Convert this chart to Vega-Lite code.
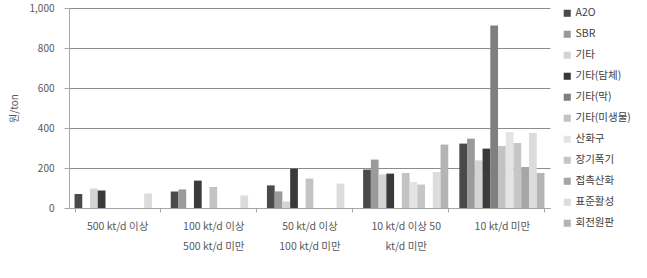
{
  "$schema": "https://vega.github.io/schema/vega-lite/v6.json",
  "width": 481,
  "height": 200,
  "autosize": {"type": "none"},
  "padding": {"left": 69, "top": 8, "right": 97, "bottom": 70},
  "config": {
    "font": "Noto Sans CJK KR",
    "view": {"stroke": null},
    "axis": {"labelColor": "#595959", "titleColor": "#595959", "labelFontSize": 10, "domainColor": "#a6a6a6", "tickColor": "#a6a6a6"},
    "axisY": {"grid": true, "gridColor": "#8c8c8c", "gridWidth": 1},
    "legend": {"labelColor": "#404040", "labelFontSize": 10.5}
  },
  "data": {
    "values": [
      {"cat": "500 kt/d 이상", "s": "A2O", "v": 70},
      {"cat": "500 kt/d 이상", "s": "기타", "v": 97},
      {"cat": "500 kt/d 이상", "s": "기타(담체)", "v": 88},
      {"cat": "500 kt/d 이상", "s": "표준활성", "v": 73},
      {"cat": "100 kt/d 이상 500 kt/d 미만", "s": "A2O", "v": 83},
      {"cat": "100 kt/d 이상 500 kt/d 미만", "s": "SBR", "v": 93},
      {"cat": "100 kt/d 이상 500 kt/d 미만", "s": "기타(담체)", "v": 137},
      {"cat": "100 kt/d 이상 500 kt/d 미만", "s": "기타(미생물)", "v": 105},
      {"cat": "100 kt/d 이상 500 kt/d 미만", "s": "표준활성", "v": 63},
      {"cat": "50 kt/d 이상 100 kt/d 미만", "s": "A2O", "v": 113},
      {"cat": "50 kt/d 이상 100 kt/d 미만", "s": "SBR", "v": 83},
      {"cat": "50 kt/d 이상 100 kt/d 미만", "s": "기타", "v": 33},
      {"cat": "50 kt/d 이상 100 kt/d 미만", "s": "기타(담체)", "v": 197},
      {"cat": "50 kt/d 이상 100 kt/d 미만", "s": "기타(미생물)", "v": 147},
      {"cat": "50 kt/d 이상 100 kt/d 미만", "s": "표준활성", "v": 122},
      {"cat": "10 kt/d 이상 50 kt/d 미만", "s": "A2O", "v": 192},
      {"cat": "10 kt/d 이상 50 kt/d 미만", "s": "SBR", "v": 242},
      {"cat": "10 kt/d 이상 50 kt/d 미만", "s": "기타", "v": 168},
      {"cat": "10 kt/d 이상 50 kt/d 미만", "s": "기타(담체)", "v": 172},
      {"cat": "10 kt/d 이상 50 kt/d 미만", "s": "기타(미생물)", "v": 175},
      {"cat": "10 kt/d 이상 50 kt/d 미만", "s": "산화구", "v": 130},
      {"cat": "10 kt/d 이상 50 kt/d 미만", "s": "장기폭기", "v": 117},
      {"cat": "10 kt/d 이상 50 kt/d 미만", "s": "표준활성", "v": 180},
      {"cat": "10 kt/d 이상 50 kt/d 미만", "s": "회전원판", "v": 317},
      {"cat": "10 kt/d 미만", "s": "A2O", "v": 322},
      {"cat": "10 kt/d 미만", "s": "SBR", "v": 347},
      {"cat": "10 kt/d 미만", "s": "기타", "v": 238},
      {"cat": "10 kt/d 미만", "s": "기타(담체)", "v": 297},
      {"cat": "10 kt/d 미만", "s": "기타(막)", "v": 912},
      {"cat": "10 kt/d 미만", "s": "기타(미생물)", "v": 310},
      {"cat": "10 kt/d 미만", "s": "산화구", "v": 380},
      {"cat": "10 kt/d 미만", "s": "장기폭기", "v": 325},
      {"cat": "10 kt/d 미만", "s": "접촉산화", "v": 205},
      {"cat": "10 kt/d 미만", "s": "표준활성", "v": 375},
      {"cat": "10 kt/d 미만", "s": "회전원판", "v": 175}
    ]
  },
  "mark": {"type": "bar"},
  "encoding": {
    "x": {
      "field": "cat", "type": "nominal",
      "sort": ["500 kt/d 이상", "100 kt/d 이상 500 kt/d 미만", "50 kt/d 이상 100 kt/d 미만", "10 kt/d 이상 50 kt/d 미만", "10 kt/d 미만"],
      "scale": {"paddingInner": 0.115, "paddingOuter": 0.0575},
      "axis": {
        "title": null, "labelAngle": 0, "tickBand": "extent", "tickSize": 4, "labelPadding": 14,
        "labelLineHeight": 20, "labelFontSize": 10.5, "labelBaseline": "middle",
        "labelExpr": "datum.label == '100 kt/d 이상 500 kt/d 미만' ? ['100 kt/d 이상', '500 kt/d 미만'] : datum.label == '50 kt/d 이상 100 kt/d 미만' ? ['50 kt/d 이상', '100 kt/d 미만'] : datum.label == '10 kt/d 이상 50 kt/d 미만' ? ['10 kt/d 이상 50', 'kt/d 미만'] : datum.label"
      }
    },
    "xOffset": {
      "field": "s", "type": "nominal",
      "sort": ["A2O", "SBR", "기타", "기타(담체)", "기타(막)", "기타(미생물)", "산화구", "장기폭기", "접촉산화", "표준활성", "회전원판"],
      "scale": {"domain": ["A2O", "SBR", "기타", "기타(담체)", "기타(막)", "기타(미생물)", "산화구", "장기폭기", "접촉산화", "표준활성", "회전원판"], "paddingInner": 0, "paddingOuter": 0}
    },
    "y": {
      "field": "v", "type": "quantitative",
      "scale": {"domain": [0, 1000]},
      "axis": {"title": "원/ton", "titleFontSize": 10, "titleFontWeight": "normal", "tickCount": 5, "format": ",d", "tickSize": 5, "labelPadding": 10, "titlePadding": 10}
    },
    "color": {
      "field": "s", "type": "nominal",
      "scale": {
        "domain": ["A2O", "SBR", "기타", "기타(담체)", "기타(막)", "기타(미생물)", "산화구", "장기폭기", "접촉산화", "표준활성", "회전원판"],
        "range": ["#4a4a4a", "#9a9a9a", "#d4d4d4", "#3a3a3a", "#7f7f7f", "#c3c3c3", "#e4e4e4", "#c6c6c6", "#a6a6a6", "#dcdcdc", "#b4b4b4"]
      },
      "legend": {"title": null, "symbolType": "square", "symbolSize": 50, "symbolStrokeWidth": 0, "rowPadding": 10, "offset": 12, "labelOffset": 3}
    }
  }
}
